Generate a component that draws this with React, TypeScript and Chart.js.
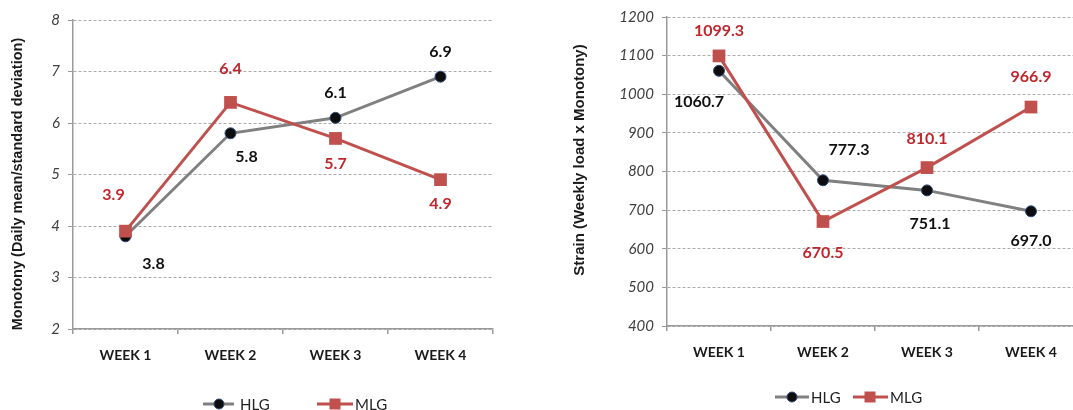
import React, { useEffect, useRef } from "react";
import { Chart, registerables } from "chart.js";

Chart.register(...registerables);

// ---------- data ----------
const weeks = ["WEEK 1", "WEEK 2", "WEEK 3", "WEEK 4"];
const seriesNames = ["HLG", "MLG"];

const monotonyHLG = [3.8, 5.8, 6.1, 6.9];
const monotonyMLG = [3.9, 6.4, 5.7, 4.9];
const monotonyAxis = { min: 2, max: 8, step: 1 };
const monotonyTitle = "Monotony (Daily mean/standard deviation)";

const strainHLG = [1060.7, 777.3, 751.1, 697.0];
const strainMLG = [1099.3, 670.5, 810.1, 966.9];
const strainAxis = { min: 400, max: 1200, step: 100 };
const strainTitle = "Strain (Weekly load x Monotony)";

// ---------- styles ----------
const GRAY_LINE = "#808080";
const RED_LINE = "#c0504d";
const RED_TEXT = "#c0272d";
const BLACK_TEXT = "#111111";
const AXIS = "#9a9a9a";
const GRID = "#ababab";

// label offsets (px) relative to each point
const monotonyHLGOffsets = [[28, 28], [16, 24], [0, -25], [0, -25]];
const monotonyMLGOffsets = [[-12, -36], [0, -34], [0, 25], [0, 24]];
const strainHLGOffsets = [[-20, 31], [26, -30], [3, 33], [0, 30]];
const strainMLGOffsets = [[0, -25], [0, 31], [0, -29], [0, -30]];

type LegendItem = { x1: number; x2: number; mx: number; tx: number };

interface ChartSpec {
  hlg: number[];
  mlg: number[];
  hlgOffsets: number[][];
  mlgOffsets: number[][];
  axis: { min: number; max: number; step: number };
  title: string;
  titleSize: number;
  titleX: number;
  titleY: number;
  yAxisWidth: number;
  xAxisHeight: number;
  padTop: number;
  padRight: number;
  legendY: number;
  legend: LegendItem[];
}

const valueLabelPlugin = {
  id: "valueLabels",
  afterDatasetsDraw(chart: any) {
    const spec: ChartSpec = chart.options.plugins.spec;
    const ctx = chart.ctx;
    ctx.save();
    ctx.font = "bold 16px Lato";
    ctx.textAlign = "center";
    ctx.textBaseline = "middle";
    chart.data.datasets.forEach((ds: any, di: number) => {
      const meta = chart.getDatasetMeta(di);
      const offsets = ds.label === "HLG" ? spec.hlgOffsets : spec.mlgOffsets;
      ctx.fillStyle = ds.label === "HLG" ? BLACK_TEXT : RED_TEXT;
      meta.data.forEach((pt: any, i: number) => {
        const v = ds.data[i] as number;
        ctx.fillText(v.toFixed(1), pt.x + offsets[i][0], pt.y + offsets[i][1]);
      });
    });
    ctx.restore();
  },
};

const decorPlugin = {
  id: "decor",
  afterDraw(chart: any) {
    const spec: ChartSpec = chart.options.plugins.spec;
    const ctx = chart.ctx;
    ctx.save();
    // y-axis title
    ctx.translate(spec.titleX, spec.titleY);
    ctx.rotate(-Math.PI / 2);
    ctx.font = `bold ${spec.titleSize}px 'Liberation Sans'`;
    ctx.fillStyle = "#1a1a1a";
    ctx.textAlign = "center";
    ctx.textBaseline = "middle";
    ctx.fillText(spec.title, 0, 0);
    ctx.restore();

    // legend
    ctx.save();
    const y = spec.legendY;
    chart.data.datasets.forEach((ds: any, i: number) => {
      const it = spec.legend[i];
      ctx.strokeStyle = ds.borderColor;
      ctx.lineWidth = 3;
      ctx.beginPath();
      ctx.moveTo(it.x1, y);
      ctx.lineTo(it.x2, y);
      ctx.stroke();
      if (ds.label === "HLG") {
        ctx.fillStyle = "#0d0d0d";
        ctx.strokeStyle = "#2e4a7a";
        ctx.lineWidth = 1;
        ctx.beginPath();
        ctx.arc(it.mx, y, 5, 0, Math.PI * 2);
        ctx.fill();
        ctx.stroke();
      } else {
        ctx.fillStyle = RED_LINE;
        ctx.fillRect(it.mx - 5.5, y - 5.5, 11, 11);
      }
      ctx.fillStyle = "#222222";
      ctx.font = "15px Lato";
      ctx.textAlign = "left";
      ctx.textBaseline = "middle";
      ctx.fillText(ds.label, it.tx, y + 1);
    });
    ctx.restore();
  },
};

function makeConfig(spec: ChartSpec): any {
  return {
    type: "line",
    data: {
      labels: weeks,
      datasets: [
        {
          label: seriesNames[0],
          data: spec.hlg,
          borderColor: GRAY_LINE,
          borderWidth: 3,
          pointStyle: "circle",
          pointRadius: 5.5,
          pointBackgroundColor: "#0d0d0d",
          pointBorderColor: "#2e4a7a",
          pointBorderWidth: 1,
          tension: 0,
          order: 1,
        },
        {
          label: seriesNames[1],
          data: spec.mlg,
          borderColor: RED_LINE,
          borderWidth: 3,
          pointStyle: "rect",
          pointRadius: 9,
          pointBackgroundColor: RED_LINE,
          pointBorderColor: RED_LINE,
          pointBorderWidth: 0,
          tension: 0,
          order: 0,
        },
      ],
    },
    options: {
      responsive: false,
      animation: false,
      events: [],
      layout: { padding: { top: spec.padTop, right: spec.padRight, bottom: 0, left: 0 } },
      plugins: {
        legend: { display: false },
        tooltip: { enabled: false },
        title: { display: false },
        spec,
      },
      scales: {
        x: {
          type: "category",
          offset: true,
          grid: {
            display: true,
            drawOnChartArea: false,
            drawTicks: true,
            tickLength: 5,
            offset: true,
            color: AXIS,
            lineWidth: 1.5,
          },
          border: { display: true, color: AXIS, width: 1.5 },
          ticks: {
            font: { family: "Lato", weight: "bold", size: 14 },
            color: "#1a1a1a",
            padding: 13,
            maxRotation: 0,
          },
          afterFit: (s: any) => {
            s.height = spec.xAxisHeight;
          },
        },
        y: {
          min: spec.axis.min,
          max: spec.axis.max,
          ticks: {
            stepSize: spec.axis.step,
            font: { family: "Lato", style: "italic", size: 15 },
            color: "#404040",
            padding: 8,
            callback: (v: any) => String(v),
          },
          grid: {
            color: GRID,
            lineWidth: 1,
            drawTicks: true,
            tickLength: 5,
            tickColor: AXIS,
          },
          border: { display: true, color: AXIS, width: 1.5, dash: [3, 2] },
          afterFit: (s: any) => {
            s.width = spec.yAxisWidth;
          },
        },
      },
    },
    plugins: [valueLabelPlugin, decorPlugin],
  };
}

const leftSpec: ChartSpec = {
  hlg: monotonyHLG,
  mlg: monotonyMLG,
  hlgOffsets: monotonyHLGOffsets,
  mlgOffsets: monotonyMLGOffsets,
  axis: monotonyAxis,
  title: monotonyTitle,
  titleSize: 14.5,
  titleX: 18,
  titleY: 184,
  yAxisWidth: 73,
  xAxisHeight: 81,
  padTop: 20,
  padRight: 12,
  legendY: 404,
  legend: [
    { x1: 203, x2: 234, mx: 219, tx: 240 },
    { x1: 317, x2: 353, mx: 335, tx: 355 },
  ],
};

const rightSpec: ChartSpec = {
  hlg: strainHLG,
  mlg: strainMLG,
  hlgOffsets: strainHLGOffsets,
  mlgOffsets: strainMLGOffsets,
  axis: strainAxis,
  title: strainTitle,
  titleSize: 15,
  titleX: 20,
  titleY: 160,
  yAxisWidth: 107,
  xAxisHeight: 84,
  padTop: 15,
  padRight: 10,
  legendY: 397,
  legend: [
    { x1: 215, x2: 249, mx: 232, tx: 251 },
    { x1: 293, x2: 328, mx: 310, tx: 330 },
  ],
};

function LineChart({ spec, left, width }: { spec: ChartSpec; left: number; width: number }) {
  const ref = useRef<HTMLCanvasElement>(null);
  useEffect(() => {
    const chart = new Chart(ref.current as HTMLCanvasElement, makeConfig(spec));
    return () => chart.destroy();
  }, [spec]);
  return (
    <canvas
      ref={ref}
      width={width}
      height={410}
      style={{ position: "absolute", left, top: 0, width, height: 410 }}
    />
  );
}

export default function App() {
  return (
    <div
      style={{
        position: "fixed",
        left: 0,
        top: 0,
        width: 1073,
        height: 410,
        overflow: "hidden",
        background: "#ffffff",
      }}
    >
      <LineChart spec={leftSpec} left={0} width={505} />
      <LineChart spec={rightSpec} left={560} width={533} />
    </div>
  );
}
